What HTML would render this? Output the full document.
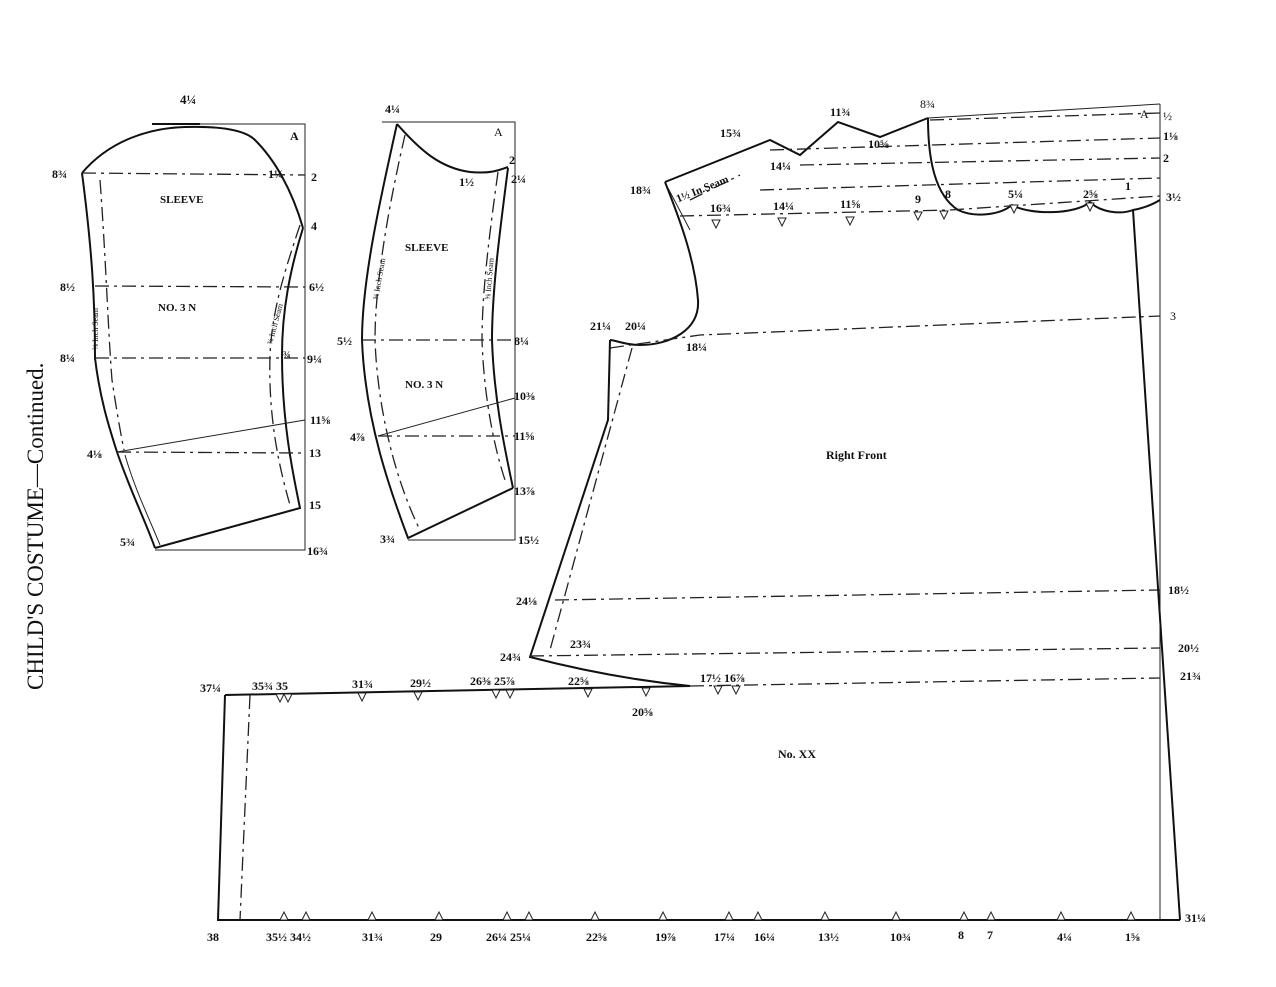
<!DOCTYPE html>
<html><head><meta charset="utf-8"><style>
html,body{margin:0;padding:0;background:#fff;}
svg{display:block}
text{font-family:"Liberation Serif","DejaVu Serif",serif;font-weight:bold;font-size:12px;fill:#111}
.s{stroke:#111;stroke-width:2;fill:none}
.t{stroke:#222;stroke-width:1;fill:none}
.d{stroke:#222;stroke-width:1.3;fill:none;stroke-dasharray:14 5 3 5}
.n{stroke:#222;stroke-width:1;fill:#fff}
</style></head><body>
<svg width="1276" height="987" viewBox="0 0 1276 987" xmlns="http://www.w3.org/2000/svg">
<!-- title -->
<text transform="translate(43,690) rotate(-90)" style="font-size:23px;font-weight:normal">CHILD'S COSTUME—Continued.</text>

<!-- SLEEVE 1 -->
<path class="t" d="M152,124 L305,124 L305,550 L155,550"/>
<path class="s" d="M152,124 L200,124"/>
<path class="s" d="M82,173 C110,140 150,128 185,127 C220,126 245,130 255,140 C275,160 292,190 303,228"/>
<path class="s" d="M82,173 C92,250 95,300 95,358 C100,400 110,430 117,452 C130,490 145,520 155,548"/>
<path class="s" d="M303,228 C290,270 282,310 282,355 C282,420 292,470 300,508 L155,548"/>
<path class="t" d="M117,452 L305,420"/>
<path class="d" d="M82,173 L305,175"/>
<path class="d" d="M95,286 L305,287"/>
<path class="d" d="M95,358 L305,358"/>
<path class="d" d="M117,452 L305,453"/>
<path class="d" d="M100,180 C106,260 108,330 112,380 C118,420 122,440 124,450"/>
<path class="t" d="M125,455 C135,490 150,520 160,545"/>
<path class="d" d="M300,225 C285,270 272,310 270,355 C268,420 280,470 290,505"/>
<text x="180" y="104" style="font-size:13px">4¼</text>
<text x="290" y="140">A</text>
<text x="52" y="178">8¾</text>
<text x="268" y="178">1¼</text>
<text x="311" y="181">2</text>
<text x="160" y="203" style="font-size:11px">SLEEVE</text>
<text x="311" y="230">4</text>
<text x="60" y="291">8½</text>
<text x="309" y="291">6½</text>
<text x="158" y="311" style="font-size:11px">NO. 3  N</text>
<text x="60" y="362">8¼</text>
<text x="283" y="358" style="font-size:10px">¾</text>
<text x="307" y="363">9¼</text>
<text x="310" y="424">11⅝</text>
<text x="87" y="458">4⅛</text>
<text x="309" y="457">13</text>
<text x="309" y="509">15</text>
<text x="120" y="546">5¾</text>
<text x="307" y="555">16¾</text>
<text transform="translate(98,350) rotate(-90)" style="font-size:8px;font-weight:normal">⅜ Inch Seam</text>
<text transform="translate(272,345) rotate(-75)" style="font-size:8px;font-weight:normal">⅜ Inch Seam</text>

<!-- SLEEVE 2 -->
<path class="t" d="M382,122 L515,122 L515,540 L408,540"/>
<path class="s" d="M397,124 C420,150 440,168 470,172 C490,174 500,170 508,167"/>
<path class="s" d="M397,124 C380,200 362,280 362,340 C365,420 390,490 408,538 L513,488"/>
<path class="s" d="M508,168 C500,230 492,290 492,340 C494,400 505,450 513,488"/>
<path class="t" d="M378,436 L515,398"/>
<path class="d" d="M362,340 L515,340"/>
<path class="d" d="M378,436 L515,436"/>
<path class="d" d="M405,135 C390,200 375,280 375,340 C378,420 400,490 420,530"/>
<path class="d" d="M498,172 C490,230 482,290 482,340 C484,400 495,450 505,480"/>
<text x="385" y="113" style="font-size:12px">4¼</text>
<text x="494" y="136" style="font-weight:normal">A</text>
<text x="509" y="164">2</text>
<text x="459" y="186">1½</text>
<text x="511" y="183">2¼</text>
<text x="405" y="251" style="font-size:11px">SLEEVE</text>
<text x="337" y="345">5½</text>
<text x="514" y="345">8¼</text>
<text x="405" y="388" style="font-size:11px">NO. 3  N</text>
<text x="514" y="400">10⅜</text>
<text x="350" y="441">4⅞</text>
<text x="514" y="440">11⅝</text>
<text x="514" y="495">13⅞</text>
<text x="380" y="543">3¾</text>
<text x="518" y="544">15½</text>
<text transform="translate(378,300) rotate(-80)" style="font-size:8px;font-weight:normal">⅝ Inch Seam</text>
<text transform="translate(490,300) rotate(-85)" style="font-size:8px;font-weight:normal">⅝ Inch Seam</text>

<!-- RIGHT FRONT -->
<path class="t" d="M928,118 L1160,104"/>
<path class="t" d="M1160,104 L1160,920"/>
<path class="s" d="M665,182 L770,140 L800,155 L838,122 L880,137 L928,118"/>
<path class="d" d="M770,150 L1160,138"/>
<path class="d" d="M800,165 L1160,158"/>
<path class="d" d="M760,190 L1160,178"/>
<path class="d" d="M930,120 L1160,113"/>
<path class="s" d="M928,118 C928,160 935,195 958,210 C975,218 1000,215 1012,205 C1030,215 1075,215 1090,202 C1100,212 1120,215 1133,210 C1145,208 1155,203 1160,200"/>
<path class="d" d="M950,210 L1160,196"/>
<path class="s" d="M665,182 C680,220 695,260 698,300 C700,330 670,345 640,345 C625,345 615,340 610,340"/>
<path class="s" d="M610,340 L608,420 L530,657 C580,670 630,680 690,686"/>
<path class="d" d="M632,348 L550,650"/>
<path class="d" d="M680,216 L950,210"/>
<path class="d" d="M610,348 L700,335 L1160,316"/>
<path class="d" d="M555,600 L1160,590"/>
<path class="d" d="M530,656 L1160,648"/>
<path class="d" d="M690,686 L1160,678"/>
<path class="t" d="M668,188 L690,230"/>
<path class="d" d="M690,200 L740,175"/>
<path class="s" d="M1133,210 L1180,920"/>
<!-- NO XX -->
<path class="s" d="M225,695 L690,686"/>
<path class="s" d="M225,695 L218,920 L1180,920"/>
<path class="d" d="M250,695 L240,920"/>
<g class="n">
<path d="M712,220 l4,8 l4,-8z"/><path d="M778,218 l4,8 l4,-8z"/><path d="M846,217 l4,8 l4,-8z"/><path d="M914,212 l4,8 l4,-8z"/><path d="M940,211 l4,8 l4,-8z"/><path d="M1010,205 l4,8 l4,-8z"/><path d="M1086,203 l4,8 l4,-8z"/>
<path d="M276,694 l4,8 l4,-8z"/><path d="M284,694 l4,8 l4,-8z"/><path d="M358,693 l4,8 l4,-8z"/><path d="M414,692 l4,8 l4,-8z"/><path d="M492,690 l4,8 l4,-8z"/><path d="M506,690 l4,8 l4,-8z"/><path d="M584,689 l4,8 l4,-8z"/><path d="M642,688 l4,8 l4,-8z"/><path d="M714,686 l4,8 l4,-8z"/><path d="M732,686 l4,8 l4,-8z"/>
<path d="M280,920 l4,-8 l4,8z"/><path d="M302,920 l4,-8 l4,8z"/><path d="M368,920 l4,-8 l4,8z"/><path d="M435,920 l4,-8 l4,8z"/><path d="M503,920 l4,-8 l4,8z"/><path d="M525,920 l4,-8 l4,8z"/><path d="M591,920 l4,-8 l4,8z"/><path d="M659,920 l4,-8 l4,8z"/><path d="M725,920 l4,-8 l4,8z"/><path d="M754,920 l4,-8 l4,8z"/><path d="M821,920 l4,-8 l4,8z"/><path d="M892,920 l4,-8 l4,8z"/><path d="M960,920 l4,-8 l4,8z"/><path d="M987,920 l4,-8 l4,8z"/><path d="M1057,920 l4,-8 l4,8z"/><path d="M1127,920 l4,-8 l4,8z"/>
</g>
<text x="830" y="116">11¾</text>
<text x="920" y="108" style="font-weight:normal">8¾</text>
<text x="1140" y="118" style="font-weight:normal">A</text>
<text x="1163" y="120" style="font-weight:normal">½</text>
<text x="720" y="137">15¾</text>
<text x="868" y="148">10⅝</text>
<text x="1163" y="140">1⅛</text>
<text x="770" y="170">14¼</text>
<text x="1163" y="162">2</text>
<text x="673" y="193" transform="rotate(-22 700 185)" style="font-size:11px">1½ In.Seam</text>
<text x="630" y="194">18¾</text>
<text x="945" y="198">8</text>
<text x="1008" y="198">5¼</text>
<text x="1083" y="198">2⅝</text>
<text x="1125" y="190">1</text>
<text x="1166" y="201">3½</text>
<text x="710" y="212">16¾</text>
<text x="773" y="210">14¼</text>
<text x="840" y="208">11⅝</text>
<text x="915" y="203">9</text>
<text x="1170" y="320" style="font-weight:normal">3</text>
<text x="590" y="330">21¼</text>
<text x="625" y="330">20¼</text>
<text x="686" y="351">18¼</text>
<text x="826" y="459">Right Front</text>
<text x="516" y="605">24⅛</text>
<text x="1168" y="594">18½</text>
<text x="570" y="648">23¾</text>
<text x="1178" y="652">20½</text>
<text x="500" y="661">24¾</text>
<text x="1180" y="680">21¾</text>
<text x="200" y="692">37¼</text>
<text x="252" y="690">35¾ 35</text>
<text x="352" y="688">31¾</text>
<text x="410" y="687">29½</text>
<text x="470" y="685">26⅜ 25⅞</text>
<text x="568" y="685">22⅝</text>
<text x="632" y="716">20⅝</text>
<text x="700" y="682">17½ 16⅞</text>
<text x="778" y="758">No. XX</text>
<text x="207" y="941">38</text>
<text x="266" y="941">35½ 34½</text>
<text x="362" y="941">31¾</text>
<text x="430" y="941">29</text>
<text x="486" y="941">26¼ 25¼</text>
<text x="586" y="941">22⅝</text>
<text x="655" y="941">19⅞</text>
<text x="714" y="941">17¼</text>
<text x="754" y="941">16¼</text>
<text x="818" y="941">13½</text>
<text x="890" y="941">10¾</text>
<text x="958" y="939">8</text>
<text x="987" y="939">7</text>
<text x="1057" y="941">4¼</text>
<text x="1125" y="941">1⅝</text>
<text x="1185" y="922">31¼</text>
</svg>
</body></html>
